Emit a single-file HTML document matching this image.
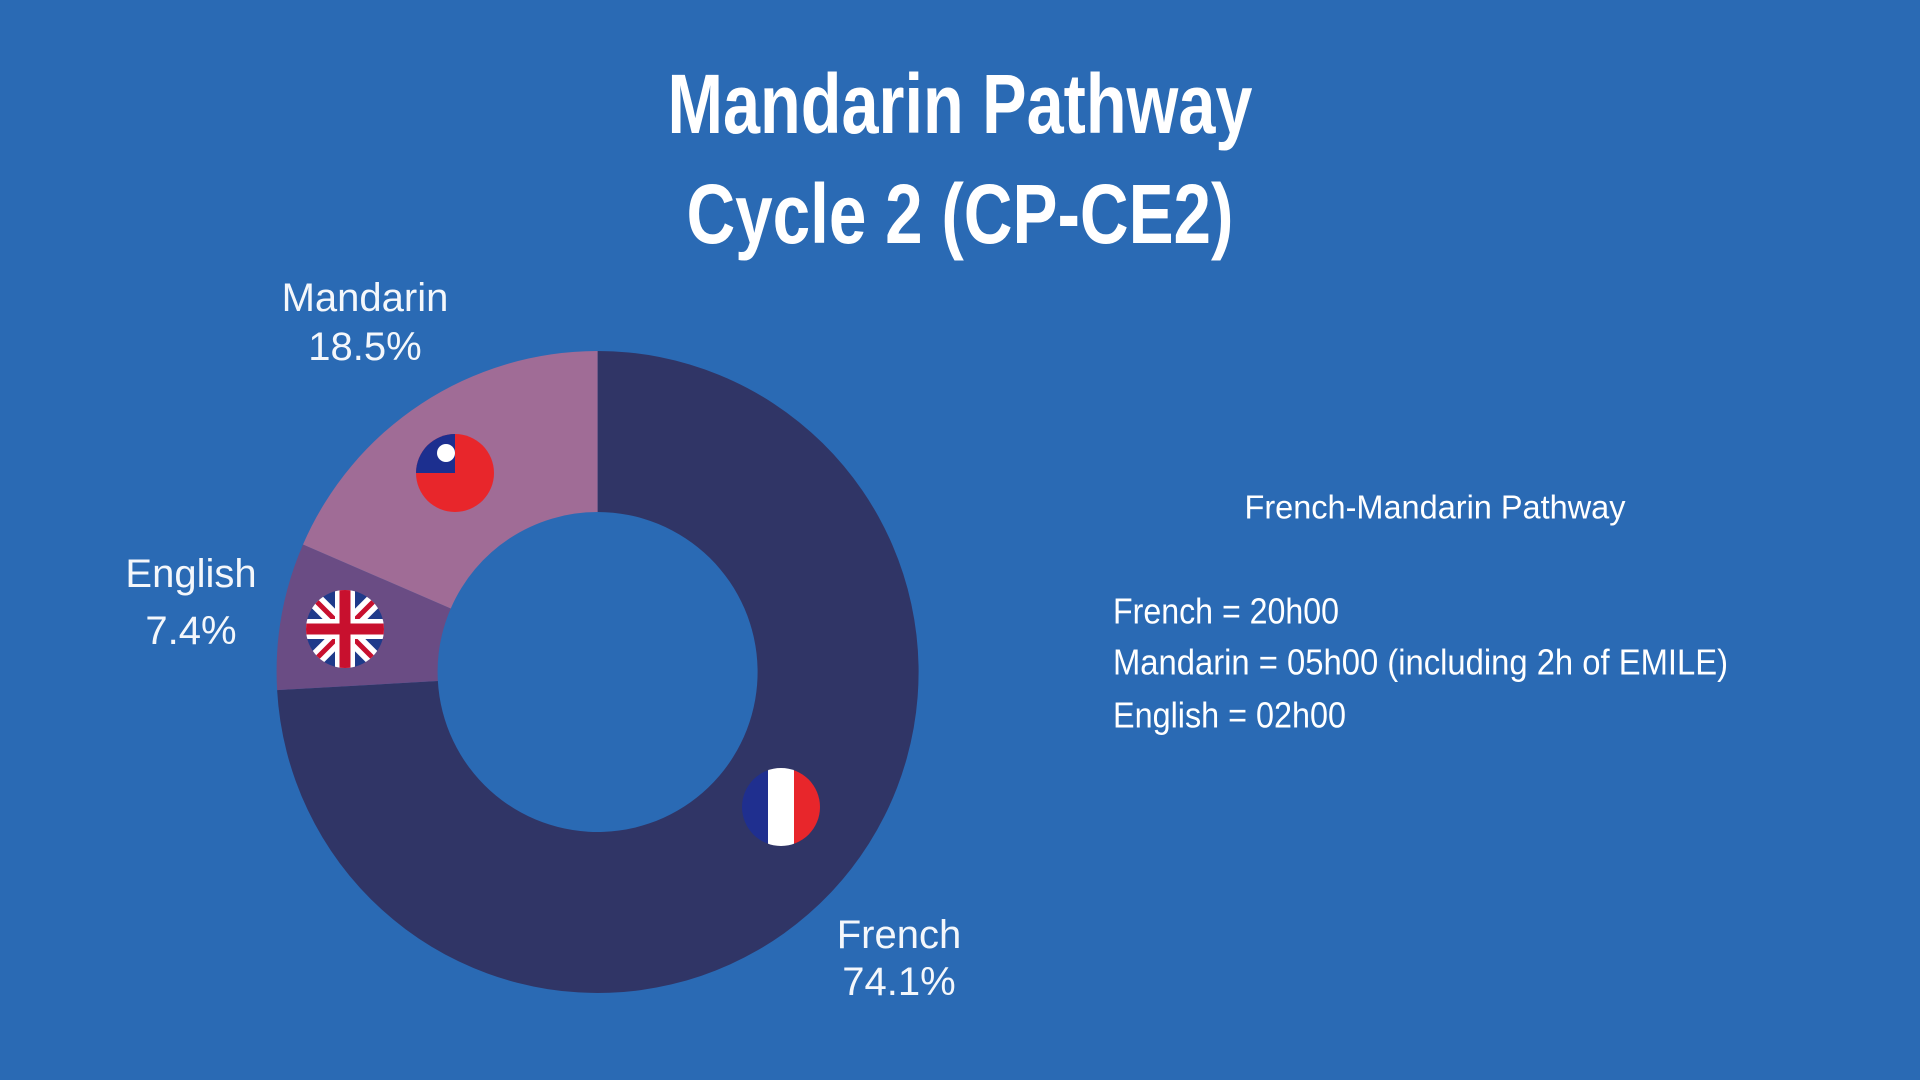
<!DOCTYPE html>
<html><head><meta charset="utf-8"><style>
html,body{margin:0;padding:0;background:#2a6ab4;}
svg{display:block;}
text{font-family:"Liberation Sans",sans-serif;fill:#fff;}
</style></head><body>
<svg id="chart" width="1920" height="1080" viewBox="0 0 1920 1080" xmlns="http://www.w3.org/2000/svg">
<rect width="1920" height="1080" fill="#2a6ab4"/>
<text x="960" y="104" text-anchor="middle" dominant-baseline="central" font-size="84" font-weight="bold" textLength="585" lengthAdjust="spacingAndGlyphs">Mandarin Pathway</text>
<text x="960" y="214" text-anchor="middle" dominant-baseline="central" font-size="84" font-weight="bold" textLength="547" lengthAdjust="spacingAndGlyphs">Cycle 2 (CP-CE2)</text>
<g id="slices"></g>
<g id="labels"></g>
<g>
 <clipPath id="cTw"><circle cx="455" cy="473" r="39"/></clipPath>
 <g clip-path="url(#cTw)"><rect x="410" y="430" width="90" height="90" fill="#e8262b"/><rect x="410" y="430" width="45" height="43" fill="#1c2f8f"/><circle cx="446" cy="453" r="9" fill="#fff"/></g>
</g>
<g>
 <clipPath id="cUk"><circle cx="345" cy="629" r="39"/></clipPath>
 <g clip-path="url(#cUk)"><rect x="300" y="585" width="90" height="90" fill="#1f3a8a"/>
 <path d="M300 585 L390 675 M390 585 L300 675" stroke="#fff" stroke-width="16"/>
 <path d="M300 585 L390 675 M390 585 L300 675" stroke="#c8102e" stroke-width="5"/>
 <path d="M345 585 V675 M300 629 H390" stroke="#fff" stroke-width="20"/>
 <path d="M345 585 V675 M300 629 H390" stroke="#c8102e" stroke-width="11"/></g>
</g>
<g>
 <clipPath id="cFr"><circle cx="781" cy="807" r="39"/></clipPath>
 <g clip-path="url(#cFr)"><rect x="740" y="765" width="28" height="85" fill="#1f2f8f"/><rect x="768" y="765" width="26" height="85" fill="#fff"/><rect x="794" y="765" width="30" height="85" fill="#e8262b"/></g>
</g>
<text x="1435" y="507" text-anchor="middle" dominant-baseline="central" font-size="33" textLength="381" lengthAdjust="spacingAndGlyphs">French-Mandarin Pathway</text>
<text x="1113" y="611" dominant-baseline="central" font-size="36" textLength="226" lengthAdjust="spacingAndGlyphs">French = 20h00</text>
<text x="1113" y="662" dominant-baseline="central" font-size="36" textLength="615" lengthAdjust="spacingAndGlyphs">Mandarin = 05h00 (including 2h of EMILE)</text>
<text x="1113" y="715" dominant-baseline="central" font-size="36" textLength="233" lengthAdjust="spacingAndGlyphs">English = 02h00</text>
</svg>
<script>
const categories = ["French", "English", "Mandarin"];
const values = [74.1, 7.4, 18.5];
const valueLabels = ["74.1%", "7.4%", "18.5%"];
const colors = ["#303566", "#6a4c84", "#a06c96"];
const cx = 597.6, cy = 672, R = 321, r = 160;
const labelPos = {French:[899,935,982], English:[191,574,631], Mandarin:[365,298,347]};
const NS = "http://www.w3.org/2000/svg";
const total = values.reduce((a,b)=>a+b,0);
function pt(rad, a){ return [cx + rad*Math.sin(a), cy - rad*Math.cos(a)]; }
let start = 0;
const g = document.getElementById('slices');
const lg = document.getElementById('labels');
values.forEach((v,i)=>{
  const end = start + v/total*2*Math.PI;
  const large = (end-start) > Math.PI ? 1 : 0;
  const [x1,y1]=pt(R,start),[x2,y2]=pt(R,end),[x3,y3]=pt(r,end),[x4,y4]=pt(r,start);
  const p = document.createElementNS(NS,'path');
  p.setAttribute('d',`M${x1} ${y1} A${R} ${R} 0 ${large} 1 ${x2} ${y2} L${x3} ${y3} A${r} ${r} 0 ${large} 0 ${x4} ${y4} Z`);
  p.setAttribute('fill',colors[i]);
  
  
  g.appendChild(p);
  const lp = labelPos[categories[i]];
  [[categories[i], lp[1], 'label-name-'], [valueLabels[i], lp[2], 'label-value-']].forEach(([s,y,n])=>{
    const t = document.createElementNS(NS,'text');
    t.setAttribute('x',lp[0]); t.setAttribute('y',y);
    t.setAttribute('text-anchor','middle'); t.setAttribute('dominant-baseline','central');
    t.setAttribute('font-size','40'); t.setAttribute('fill-opacity','0.95');
    t.textContent = s;
    
    
    lg.appendChild(t);
  });
  start = end;
});
</script>
</body></html>
